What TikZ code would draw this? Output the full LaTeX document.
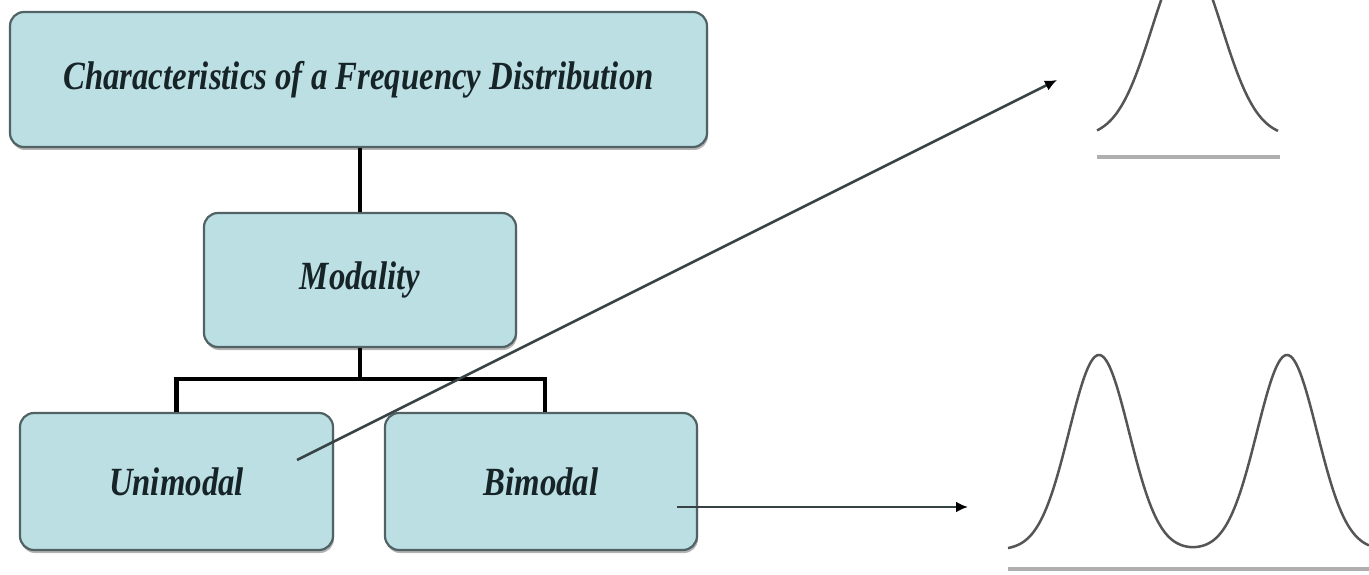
\documentclass[tikz,border=0pt]{standalone}
\usepackage{fontspec}
\setmainfont{Liberation Serif}
\usetikzlibrary{shadows,arrows.meta}
\definecolor{boxfill}{RGB}{188,223,227}
\definecolor{boxline}{RGB}{80,98,100}
\definecolor{txt}{RGB}{22,36,40}
\definecolor{arr}{RGB}{55,66,68}
\definecolor{curve}{RGB}{85,85,85}
\definecolor{base}{RGB}{175,175,175}
\tikzset{
  box/.style={draw=boxline, line width=2.2pt, fill=boxfill, rounded corners=14pt,
    drop shadow={shadow xshift=1pt, shadow yshift=-3pt, fill=black!50, opacity=0.6},
    text=txt, font=\fontsize{40}{44}\selectfont\bfseries\itshape, inner sep=0pt},
  tree/.style={line width=4.5pt, black},
  pointer/.style={line width=2.5pt, arr, -{Latex[length=12pt,width=11pt,fill=black,color=black]}},
  dist/.style={line width=2.5pt, curve},
  axis/.style={line width=4pt, base}
}
\newcommand{\cond}[1]{\scalebox{0.82}[1]{#1}}
\begin{document}
\begin{tikzpicture}[x=1pt,y=-1pt]
\useasboundingbox (0,0) rectangle (1369,575);
\node[box, minimum width=697pt, minimum height=135pt] (top) at (358.5,79.5) {\cond{Characteristics of a Frequency Distribution}};
\node[box, minimum width=312pt, minimum height=134pt] (mod) at (360,280) {\cond{Modality}};
\node[box, minimum width=313pt, minimum height=137pt] (uni) at (176.5,481.5) {\cond{Unimodal}};
\node[box, minimum width=312pt, minimum height=137pt] (bim) at (541,481.5) {\cond{Bimodal}};
\draw[tree] (top.south -| mod.north) -- (mod.north);
\draw[tree] (mod.south) -- ++(0,31) coordinate (j);
\draw[tree] ([xshift=0pt]uni.north) |- (j) -| ([xshift=4pt]bim.north);
\coordinate (ustart) at (297,460);
\coordinate (uend) at (1057,80);
\coordinate (bstart) at (677,507);
\coordinate (bend) at (968,507);
\draw[pointer] (ustart) -- (uend);
\draw[pointer] (bstart) -- (bend);
\begin{scope}
\clip (0,0) rectangle (1369,575);
\draw[dist] plot[domain=1097:1278, samples=120] (\x,{137-180*exp(-((\x-1187)/100)^2/0.245)});
\draw[dist] plot[domain=1008:1369, samples=200] (\x,{550-195*(exp(-((\x-1099)/100)^2/0.18)+exp(-((\x-1287)/100)^2/0.18))});
\end{scope}
\draw[axis] (1097,157) coordinate (ua) -- (1280,157) coordinate (ub);
\draw[axis] (1008,569) coordinate (ba) -- (1369,569) coordinate (bb);
\end{tikzpicture}
\end{document}
